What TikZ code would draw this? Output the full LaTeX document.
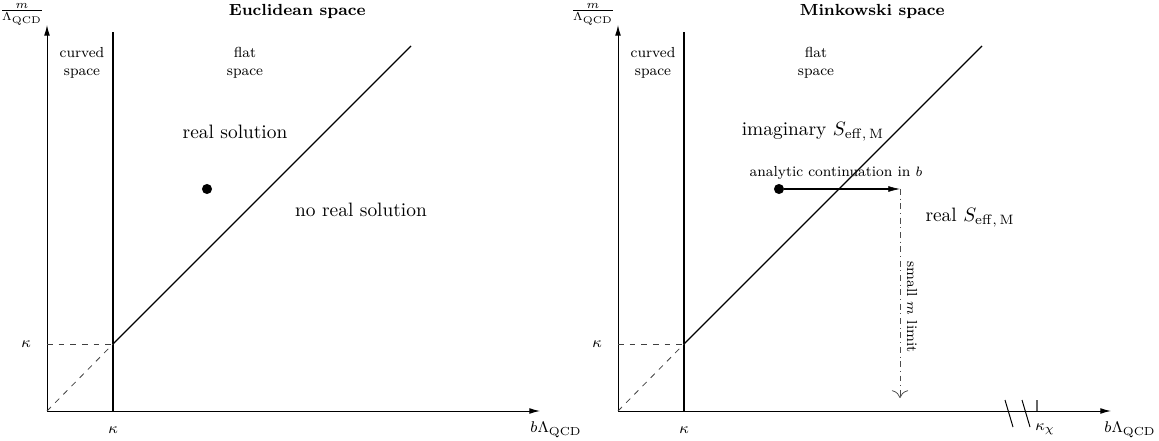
\documentclass[tikz,border=0pt]{standalone}
\usepackage{amsmath,amssymb}
\usetikzlibrary{arrows.meta, calc}
\tikzset{
  axis/.style={-{Latex[length=5.5pt, width=3pt]}, line width=0.5pt},
  bound/.style={line width=0.55pt},
  guide/.style={dashed, black!75},
  contline/.style={-{Latex[length=6pt, width=3pt, line width=0.3pt]}, line width=1.4pt},
  limline/.style={-{To[length=4pt]}, dash dot, black!70},
  region/.style={font=\fontsize{7.5}{9}\selectfont, align=center},
  tag/.style={font=\fontsize{8.5}{10}\selectfont},
  heading/.style={font=\fontsize{8.3}{10}\selectfont\bfseries, anchor=west},
  spot/.style={circle, fill, inner sep=0pt, minimum size=5.2pt}
}

\begin{document}
\begin{tikzpicture}[x=0.01812cm, y=-0.01812cm]
    \useasboundingbox (0,0) rectangle (1159,441);
    % Euclidean panel
    \coordinate (OE)  at (47,411);
    \coordinate (yE)  at (47,25);
    \coordinate (xE)  at (540,411);
    \coordinate (kbE) at (113,411);
    \coordinate (ktE) at (113,32);
    \coordinate (kE)  at (113,344);
    \coordinate (kyE) at (47,344);
    \coordinate (dE)  at (411,46);
    \draw[axis]  (OE) -- (yE);
    \draw[axis]  (OE) -- (xE);
    \draw[bound] (kbE) -- (ktE);
    \draw[bound] (kE) -- (dE);
    \draw[guide] (kyE) -- (kE);
    \draw[guide] (OE) -- (kE);
    \node[tag] (myE) at (22,14)  {$\frac{m}{\Lambda_{\mathrm{QCD}}}$};
    \node[tag] (bxE) at (556,430) {$b\Lambda_{\mathrm{QCD}}$};
    \node[tag] (kxE) at (113,430) {$\kappa$};
    \node[tag] (klE) at (26,344)  {$\kappa$};
    \node[heading] (tE) at (222,11) {Euclidean space};
    \node[region] (cE) at (82,63)  {curved\\space};
    \node[region] (fE) at (245,63) {flat\\space};
    \node (rE) at (235,132) {real solution};
    \node (nE) at (361,210) {no real solution};
    \node[spot] (sE) at (207,189) {};
    % Minkowski panel
    \coordinate (OM)  at (618,411);
    \coordinate (yM)  at (618,25);
    \coordinate (xM)  at (1111,411);
    \coordinate (kbM) at (684,411);
    \coordinate (ktM) at (684,32);
    \coordinate (kM)  at (684,344);
    \coordinate (kyM) at (618,344);
    \coordinate (dM)  at (982,46);
    \draw[axis]  (OM) -- (yM);
    \draw[axis]  (OM) -- (xM);
    \draw[bound] (kbM) -- (ktM);
    \draw[bound] (kM) -- (dM);
    \draw[guide] (kyM) -- (kM);
    \draw[guide] (OM) -- (kM);
    \coordinate (b1a) at (1005,400);
    \coordinate (b1b) at (1013,427);
    \coordinate (b2a) at (1022,400);
    \coordinate (b2b) at (1030,427);
    \coordinate (tka) at (1037,400);
    \coordinate (tkb) at (1037,411);
    \draw[line width=0.5pt] (b1a) -- (b1b);
    \draw[line width=0.5pt] (b2a) -- (b2b);
    \draw[black!60, line width=0.6pt] (tka) -- (tkb);
    \node[tag] (myM) at (593,14)  {$\frac{m}{\Lambda_{\mathrm{QCD}}}$};
    \node[tag] (bxM) at (1130,430) {$b\Lambda_{\mathrm{QCD}}$};
    \node[tag] (kxM) at (684,430) {$\kappa$};
    \node[tag] (klM) at (597,344) {$\kappa$};
    \node[tag] (kcM) at (1045,429) {$\kappa_\chi$};
    \node[heading] (tM) at (793,11) {Minkowski space};
    \node[region] (cM) at (653,63) {curved\\space};
    \node[region] (fM) at (816,63) {flat\\space};
    \node (imM) at (813,132) {imaginary $S_{\mathrm{eff,\,M}}$};
    \node (reM) at (970,218) {real $S_{\mathrm{eff,\,M}}$};
    \node[spot] (sM) at (779,189) {};
    \coordinate (aM) at (900,189);
    \coordinate (lM) at (900,398);
    \draw[contline] (sM) -- (aM);
    \draw[limline] (aM) -- (lM);
    \node[region] (acM) at (836,173) {analytic continuation in $b$};
    \node[region, rotate=-90] (smM) at (912,307) {small $m$ limit};
\end{tikzpicture}
\end{document}
